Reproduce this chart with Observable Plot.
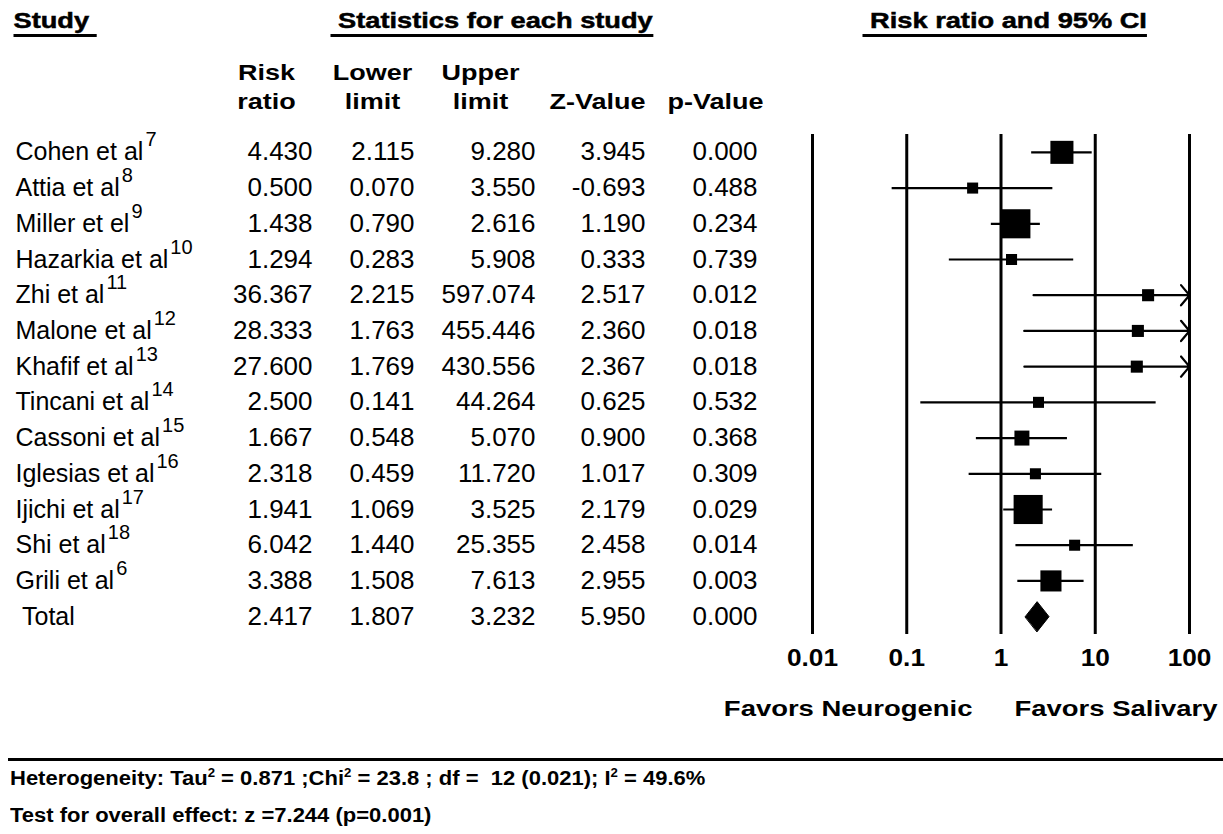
<!DOCTYPE html>
<html><head><meta charset="utf-8">
<script src="https://cdn.jsdelivr.net/npm/d3@7"></script>
<script src="https://cdn.jsdelivr.net/npm/@observablehq/plot@0.6"></script>
<style>
  html,body{margin:0;padding:0;background:#fff;}
  body{width:1223px;height:834px;position:relative;overflow:hidden;font-family:"Liberation Sans",Arial,sans-serif;color:#000;}
  #chart{position:absolute;left:0;top:0;}
  #chart svg text{white-space:pre;}
  #rule{position:absolute;left:8px;top:758px;width:1215px;height:3px;background:#000;}
  .foot{position:absolute;left:10px;font-weight:bold;font-size:20px;line-height:22px;white-space:pre;transform:scaleX(1.1);transform-origin:0 50%;}
  .foot sup{font-size:12px;line-height:0;vertical-align:8px;}
</style></head><body>
<div id="chart"></div>
<div id="rule"></div>
<div class="foot" id="het" style="top:767px"></div>
<div class="foot" id="test" style="top:804px"></div>
<script>
// ---------------- data ----------------
const studies = ["Cohen et al","Attia et al","Miller et el","Hazarkia et al","Zhi et al","Malone et al","Khafif et al","Tincani et al","Cassoni et al","Iglesias et al","Ijichi et al","Shi et al","Grili et al","Total"];
const refs = ["7","8","9","10","11","12","13","14","15","16","17","18","6",""];
const riskRatio = [4.430,0.500,1.438,1.294,36.367,28.333,27.600,2.500,1.667,2.318,1.941,6.042,3.388,2.417];
const lowerLimit = [2.115,0.070,0.790,0.283,2.215,1.763,1.769,0.141,0.548,0.459,1.069,1.440,1.508,1.807];
const upperLimit = [9.280,3.550,2.616,5.908,597.074,455.446,430.556,44.264,5.070,11.720,3.525,25.355,7.613,3.232];
const zValue = [3.945,-0.693,1.190,0.333,2.517,2.360,2.367,0.625,0.900,1.017,2.179,2.458,2.955,5.950];
const pValue = [0.000,0.488,0.234,0.739,0.012,0.018,0.018,0.532,0.368,0.309,0.029,0.014,0.003,0.000];
const relWeight = [13.5,3.1,21.5,3.1,3.7,3.7,3.7,3.1,5.7,3.1,21.5,3.1,11.3,null]; // estimated relative weights (%)
const axisTicks = [0.01,0.1,1,10,100];
const axisTickLabels = ["0.01","0.1","1","10","100"];
const sectionTitles = ["Study ", " Statistics for each study", " Risk ratio and 95% CI"];
const headerLine1 = ["Risk","Lower","Upper","",""];
const headerLine2 = ["ratio","limit","limit","Z-Value","p-Value"];
const favorsLabels = ["Favors Neurogenic","Favors Salivary"];
const heterogeneityText = "Heterogeneity: Tau<sup>2</sup> = 0.871 ;Chi<sup>2</sup> = 23.8 ; df =  12 (0.021); I<sup>2</sup> = 49.6%";
const overallText = "Test for overall effect: z =7.244 (p=0.001)";

// ---------------- layout ----------------
const W = 1223, H = 745;
const frameLeft = 812, frameRight = 1189, frameTop = 134, frameBottom = 634;
const nameX = 15;
const colRight = [312, 414, 535, 645, 757];
const colCenter = [266, 372, 480, 597, 715];
const titleX = [13, 330, 862];
const favorsRight = [972, 1217];

const rows = studies.map((name, i) => ({
  i, name, ref: refs[i], rr: riskRatio[i], lo: lowerLimit[i], hi: upperLimit[i],
  z: zValue[i], p: pValue[i], w: relWeight[i], total: name === "Total"
}));
const studyRows = rows.filter(d => !d.total);
const tot = rows.find(d => d.total);
const diamondHalf = 0.42;
const diamond = [
  {x: tot.lo, y: tot.i}, {x: tot.rr, y: tot.i - diamondHalf},
  {x: tot.hi, y: tot.i}, {x: tot.rr, y: tot.i + diamondHalf}
];
const xMax = axisTicks[axisTicks.length - 1];
const fmt = v => v.toFixed(3);
const cols = ["rr", "lo", "hi", "z", "p"];
const la = "middle";

const marks = [
  Plot.ruleX(axisTicks, {strokeWidth: 3}),
  Plot.ruleY(studyRows.filter(d => d.hi <= xMax), {y: "i", x1: "lo", x2: "hi", strokeWidth: 2.2}),
  Plot.arrow(studyRows.filter(d => d.hi > xMax), {x1: "lo", x2: d => Math.min(d.hi, xMax), y1: "i", y2: "i", strokeWidth: 2.2, headLength: 9, headAngle: 100}),
  Plot.dot(studyRows, {x: "rr", y: "i", r: "w", symbol: "square", fill: "black", stroke: null}),
  Plot.line(diamond, {x: "x", y: "y", curve: "linear-closed", fill: "black", stroke: "black", strokeWidth: 1}),
  Plot.text(axisTicks, {x: d => d, text: (d, i) => axisTickLabels[i], frameAnchor: "bottom", lineAnchor: la, dy: 24, fontSize: 23, fontWeight: "bold", ariaDescription: "ticklabels"}),
  Plot.text(rows, {y: "i", text: d => d.total ? " Total" : d.name, frameAnchor: "left", lineAnchor: la, dx: nameX - frameLeft, textAnchor: "start", fontSize: 25, ariaDescription: "studynames"}),
  ...cols.map((c, k) => Plot.text(rows, {y: "i", text: d => fmt(d[c]), frameAnchor: "left", lineAnchor: la, dx: colRight[k] - frameLeft, textAnchor: "end", fontSize: 25, ariaDescription: "numbers"})),
  ...sectionTitles.map((t, k) => Plot.text([t], {text: d => d, frameAnchor: "top-left", lineAnchor: la, dx: titleX[k] - frameLeft, dy: 20.7 - frameTop, textAnchor: "start", fontSize: 22.5, fontWeight: "bold", ariaDescription: "titles"})),
  ...headerLine1.map((t, k) => t ? Plot.text([t], {text: d => d, frameAnchor: "top-left", lineAnchor: la, dx: colCenter[k] - frameLeft, dy: 72 - frameTop, textAnchor: "middle", fontSize: 22.5, fontWeight: "bold", ariaDescription: "colheads"}) : null).filter(Boolean),
  ...headerLine2.map((t, k) => Plot.text([t], {text: d => d, frameAnchor: "top-left", lineAnchor: la, dx: colCenter[k] - frameLeft, dy: 101 - frameTop, textAnchor: "middle", fontSize: 22.5, fontWeight: "bold", ariaDescription: "colheads"})),
  ...favorsLabels.map((t, k) => Plot.text([t], {text: d => d, frameAnchor: "bottom-left", lineAnchor: la, dx: favorsRight[k] - frameLeft, dy: 708 - frameBottom, textAnchor: "end", fontSize: 22.5, fontWeight: "bold", ariaDescription: "favors"}))
];

const chart = Plot.plot({
  width: W, height: H,
  marginLeft: frameLeft, marginRight: W - frameRight, marginTop: frameTop, marginBottom: H - frameBottom,
  x: {type: "log", domain: [0.01, 100], axis: null},
  y: {domain: [-0.5, 13.5], reverse: true, axis: null},
  r: {type: "sqrt", domain: [0, 100], range: [0, 35.4]},
  style: {fontFamily: "'Liberation Sans', Arial, sans-serif", color: "black", background: "white", overflow: "visible"},
  marks
});
document.getElementById("chart").append(chart);

function textsOf(label) {
  return Array.from(chart.querySelectorAll(`g[aria-description="${label}"] text`));
}
// horizontal stretch to match the reference's wide lettering
function stretch(label, k) {
  textsOf(label).forEach(t => {
    const L = t.getComputedTextLength();
    if (L > 0) { t.setAttribute("textLength", (L * k).toFixed(2)); t.setAttribute("lengthAdjust", "spacingAndGlyphs"); }
  });
}
stretch("titles", 1.21);
stretch("colheads", 1.2);
stretch("numbers", 1.04);
stretch("ticklabels", 1.14);
stretch("favors", 1.22);

// thick underlines under the section titles
const svgBox = chart.getBoundingClientRect();
textsOf("titles").forEach(t => {
  t.setAttribute("stroke", "black");
  t.setAttribute("stroke-width", "0.5");
  const b = t.getBoundingClientRect();
  const ln = document.createElementNS("http://www.w3.org/2000/svg", "line");
  ln.setAttribute("x1", b.left - svgBox.left);
  ln.setAttribute("x2", b.right - svgBox.left);
  ln.setAttribute("y1", 35.5);
  ln.setAttribute("y2", 35.5);
  ln.setAttribute("stroke", "black");
  ln.setAttribute("stroke-width", "3");
  chart.appendChild(ln);
});

// superscript reference numbers
textsOf("studynames").forEach((t, i) => {
  const ref = rows[i].ref;
  if (!ref) return;
  const ts = document.createElementNS("http://www.w3.org/2000/svg", "tspan");
  ts.setAttribute("dx", "2");
  ts.setAttribute("dy", "-14");
  ts.setAttribute("font-size", "20");
  ts.textContent = ref;
  t.appendChild(ts);
});

document.getElementById("het").innerHTML = heterogeneityText;
document.getElementById("test").textContent = overallText;
</script>
</body></html>
